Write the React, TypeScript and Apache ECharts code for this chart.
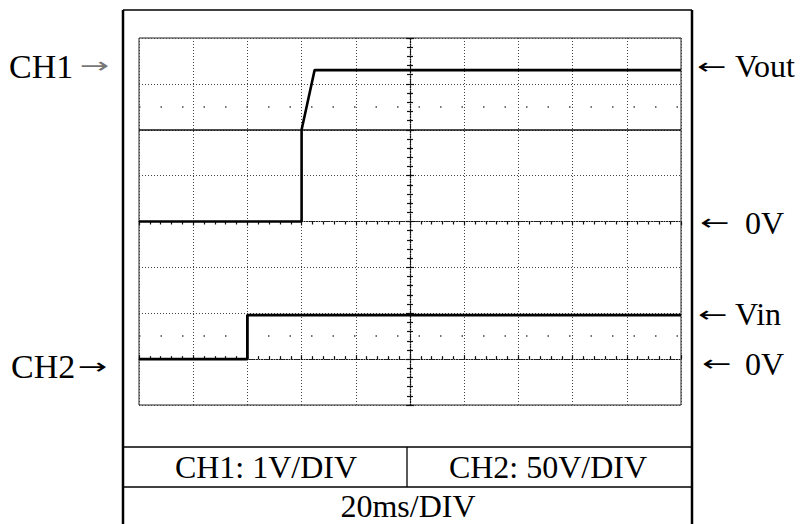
import React, { useEffect, useRef } from "react";
import * as echarts from "echarts";

// Time axis (ms), 20 ms/DIV, trigger at centre
const timeRange = [-100, 100];
const timeStep = 20;
// CH1: 1 V/DIV, 0 V at centre
const ch1Range = [-4, 4];
const ch1Step = 1;
// CH2: 50 V/DIV, 0 V three divisions below centre
const ch2Range = [-50, 350];
const ch2Step = 50;

// Vout trace (CH1) [ms, V]
const voutTime = [-100, -40, -40, -35.2, 100];
const voutVolts = [0, 0, 2, 3.3, 3.3];
// Vin trace (CH2) [ms, V]
const vinTime = [-100, -60, -60, 100];
const vinVolts = [0, 0, 48, 48];

// reference markings on the screen (CH1 divisions)
const solidRef = [2];
const dotRefs = [2.5, -2.5];

const leftLabels = ["CH1", "CH2"];
const rightLabels = ["Vout", "0V", "Vin", "0V"];
const footer = ["CH1: 1V/DIV", "CH2: 50V/DIV", "20ms/DIV"];

const FONT = '"Liberation Serif", "Times New Roman", serif';
const ARROW_FONT = '"DejaVu Sans", sans-serif';

export default function App() {
  const ref = useRef<HTMLDivElement>(null);
  useEffect(() => {
    if (!ref.current) return;
    const chart = echarts.init(ref.current, undefined, { renderer: "svg" });
    const gridStyle = { color: "#444", width: 1, type: [1, 2] as any };
    const axisLineStyle = { color: "#111", width: 1.2, type: [1, 1.5] as any };
    const tickStyle = { color: "#111", width: 1.2 };
    const txt = (
      text: string,
      x: number,
      y: number,
      size: number,
      align = "left",
      fill = "#000",
      family = FONT,
      scaleX = 1,
      scaleY = 1
    ) => ({
      type: "text",
      x,
      y,
      scaleX,
      scaleY,
      silent: true,
      style: { text, fontFamily: family, fontSize: size, fill, align, verticalAlign: "middle" },
    });
    const arrow = (ch: string, x: number, y: number, fill = "#000") =>
      txt(ch, x, y, 22, "left", fill, ARROW_FONT, 1.6, 1);
    const ln = (x1: number, y1: number, x2: number, y2: number, w: number) => ({
      type: "line",
      silent: true,
      shape: { x1, y1, x2, y2 },
      style: { stroke: "#000", lineWidth: w },
    });

    chart.setOption({
      animation: false,
      backgroundColor: "#fff",
      grid: { left: 139, top: 38, right: 124, bottom: 119, show: true, borderColor: "#222", borderWidth: 1 },
      xAxis: [
        {
          type: "value",
          min: timeRange[0],
          max: timeRange[1],
          interval: timeStep,
          position: "bottom",
          axisLine: { show: true, onZero: true, lineStyle: axisLineStyle },
          axisTick: { show: true, length: 4, lineStyle: tickStyle },
          minorTick: { show: true, splitNumber: 5, length: 3, lineStyle: tickStyle },
          axisLabel: { show: false },
          splitLine: { show: true, lineStyle: gridStyle },
        },
        {
          type: "value",
          min: timeRange[0],
          max: timeRange[1],
          interval: timeStep,
          position: "top",
          axisLine: { show: true, onZero: true, lineStyle: axisLineStyle },
          axisTick: { show: true, length: 4, lineStyle: tickStyle },
          minorTick: { show: true, splitNumber: 5, length: 3, lineStyle: tickStyle },
          axisLabel: { show: false },
          splitLine: { show: false },
        },
      ],
      yAxis: [
        {
          type: "value",
          min: ch1Range[0],
          max: ch1Range[1],
          interval: ch1Step,
          position: "left",
          axisLine: { show: true, onZero: true, lineStyle: axisLineStyle },
          axisTick: { show: true, length: 4, lineStyle: tickStyle },
          minorTick: { show: true, splitNumber: 5, length: 3, lineStyle: tickStyle },
          axisLabel: { show: false },
          splitLine: { show: true, lineStyle: gridStyle },
        },
        {
          type: "value",
          min: ch2Range[0],
          max: ch2Range[1],
          interval: ch2Step,
          position: "right",
          axisLine: { show: true, onZero: true, lineStyle: axisLineStyle },
          axisTick: { show: true, length: 4, lineStyle: tickStyle },
          minorTick: { show: true, splitNumber: 5, length: 3, lineStyle: tickStyle },
          axisLabel: { show: false },
          splitLine: { show: false },
        },
      ],
      series: [
        {
          name: "Vout",
          type: "line",
          xAxisIndex: 0,
          yAxisIndex: 0,
          data: voutTime.map((t, i) => [t, voutVolts[i]]),
          showSymbol: false,
          symbol: "none",
          lineStyle: { color: "#000", width: 2.6 },
          z: 5,
          markLine: {
            silent: true,
            symbol: "none",
            label: { show: false },
            data: [
              ...solidRef.map((v) => ({ yAxis: v, lineStyle: { color: "#111", width: 1.6, type: "solid" } })),
              ...dotRefs.map((v) => ({ yAxis: v, lineStyle: { color: "#444", width: 1.5, type: [1.5, 20] } })),
            ],
          },
        },
        {
          name: "Vin",
          type: "line",
          xAxisIndex: 0,
          yAxisIndex: 1,
          data: vinTime.map((t, i) => [t, vinVolts[i]]),
          showSymbol: false,
          symbol: "none",
          lineStyle: { color: "#000", width: 2.8 },
          z: 5,
        },
      ],
      graphic: [
        // outer frame and footer table
        ln(123, 10, 692, 10, 1.5),
        ln(123, 10, 123, 524, 2.5),
        ln(692, 10, 692, 524, 2.5),
        ln(123, 447, 692, 447, 1.3),
        ln(123, 487, 692, 487, 1.3),
        ln(407, 447, 407, 487, 1.3),
        // left labels
        txt(leftLabels[0], 9, 66, 34),
        arrow("→", 80, 66, "#777"),
        txt(leftLabels[1], 11, 366, 34),
        arrow("→", 78, 367),
        // right labels
        arrow("←", 697, 67),
        txt(rightLabels[0], 735, 66, 32),
        arrow("←", 700, 223),
        txt(rightLabels[1], 745, 223, 32),
        arrow("←", 698, 315),
        txt(rightLabels[2], 735, 314, 32),
        arrow("←", 702, 364),
        txt(rightLabels[3], 745, 364, 32),
        // footer
        txt(footer[0], 266, 467, 32, "center"),
        txt(footer[1], 548, 467, 32, "center"),
        txt(footer[2], 408, 506, 32, "center"),
      ],
    });
    return () => chart.dispose();
  }, []);
  return <div ref={ref} style={{ position: "absolute", left: 0, top: 0, width: 805, height: 524 }} />;
}
